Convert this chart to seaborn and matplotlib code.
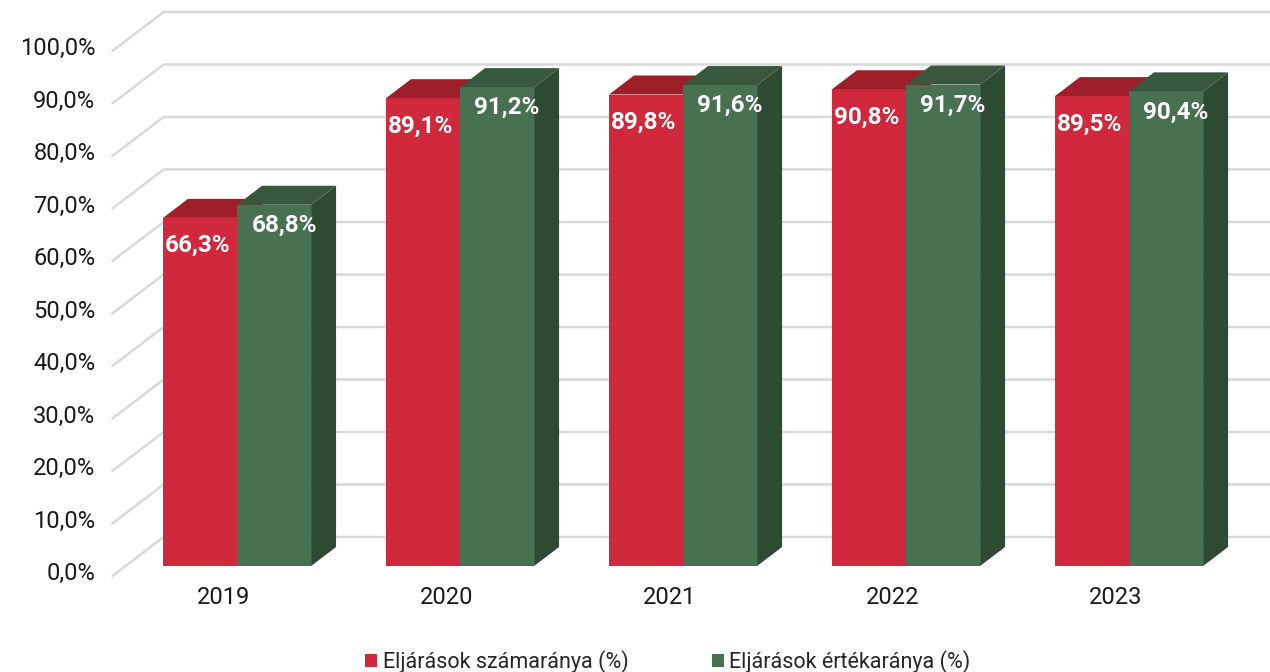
import numpy as np
import pandas as pd
import matplotlib
matplotlib.use("Agg")
import matplotlib.pyplot as plt
from matplotlib.patches import Polygon
import seaborn as sns

# chart data
years = ["2019", "2020", "2021", "2022", "2023"]
szamarany = [66.3, 89.1, 89.8, 90.8, 89.5]
ertekarany = [68.8, 91.2, 91.6, 91.7, 90.4]
series_names = ["Eljárások számaránya (%)", "Eljárások értékaránya (%)"]
y_ticks = [0, 10, 20, 30, 40, 50, 60, 70, 80, 90, 100]

# colours: front, top, side
RED = ("#D0293B", "#9E1E2A", "#8A1A25")
GREEN = ("#487152", "#38583D", "#2D4A33")
GRID = "#D9D9D9"

# fake 3D depth of one bar, in data units
DX, DY = 0.112, 3.62
D_FRONT, D_BACK = -0.525, 1.525   # wall depth relative to bar depth
WALL_LEFT = -0.50

df = pd.DataFrame({
    "year": years * 2,
    "value": szamarany + ertekarany,
    "series": [series_names[0]] * len(years) + [series_names[1]] * len(years),
})

sns.set_theme(style="white")
plt.rcParams["font.family"] = ["Roboto", "DejaVu Sans"]

fig = plt.figure(figsize=(12.7, 6.72), dpi=100)
ax = fig.add_axes([0, 0, 1, 1])

sns.barplot(data=df, x="year", y="value", hue="series",
            palette=[RED[0], GREEN[0]], width=0.664, linewidth=0,
            saturation=1, ax=ax, zorder=3)

ax.set_xlim(-1.063, 4.632)
ax.set_ylim(-20.19, 107.8)
ax.axis("off")

# back wall + side wall gridlines
x_right = ax.get_xlim()[1]
for v in y_ticks:
    xf, yf = WALL_LEFT + D_FRONT * DX, v + D_FRONT * DY
    xb, yb = WALL_LEFT + D_BACK * DX, v + D_BACK * DY
    ax.plot([xf, xb, x_right], [yf, yb, yb], color=GRID, lw=1.8,
            solid_joinstyle="miter", zorder=1)
    ax.text(xf - 0.076, yf + 0.4, f"{v:.1f}%".replace(".", ","),
            ha="right", va="center", fontsize=17, color="#1A1A1A")

# category labels in front of the floor
for i, y in enumerate(years):
    ax.text(i + D_FRONT * DX, -6.0, y, ha="center", va="center",
            fontsize=17, color="#1A1A1A")

# top and side faces + value labels
label_shift = [(-0.01, -5.3), (0.045, -3.9)]
for k, (cont, cols) in enumerate(zip(ax.containers, [RED, GREEN])):
    z = 3 + k
    for bar in cont:
        bar.set_zorder(z + 0.5)
        x0, w, h = bar.get_x(), bar.get_width(), bar.get_height()
        x1 = x0 + w
        top = Polygon([(x0, h), (x1, h), (x1 + DX, h + DY), (x0 + DX, h + DY)],
                      closed=True, facecolor=cols[1], edgecolor="none", zorder=z + 0.5)
        side = Polygon([(x1, 0), (x1, h), (x1 + DX, h + DY), (x1 + DX, DY)],
                       closed=True, facecolor=cols[2], edgecolor="none", zorder=z)
        ax.add_patch(side)
        ax.add_patch(top)
        sx, sy = label_shift[k]
        ax.text(x0 + w / 2 + sx, h + sy, f"{h:.1f}%".replace(".", ","),
                ha="center", va="center", fontsize=17.5, fontweight="bold",
                color="white", zorder=10)

sns.move_legend(ax, "lower center", bbox_to_anchor=(0.526, -0.03), ncol=2,
                frameon=False, title=None, fontsize=15.5, handlelength=0.55,
                handleheight=0.55, handletextpad=0.25, columnspacing=3.9)

fig.savefig("out.png", dpi=100, facecolor="white")
